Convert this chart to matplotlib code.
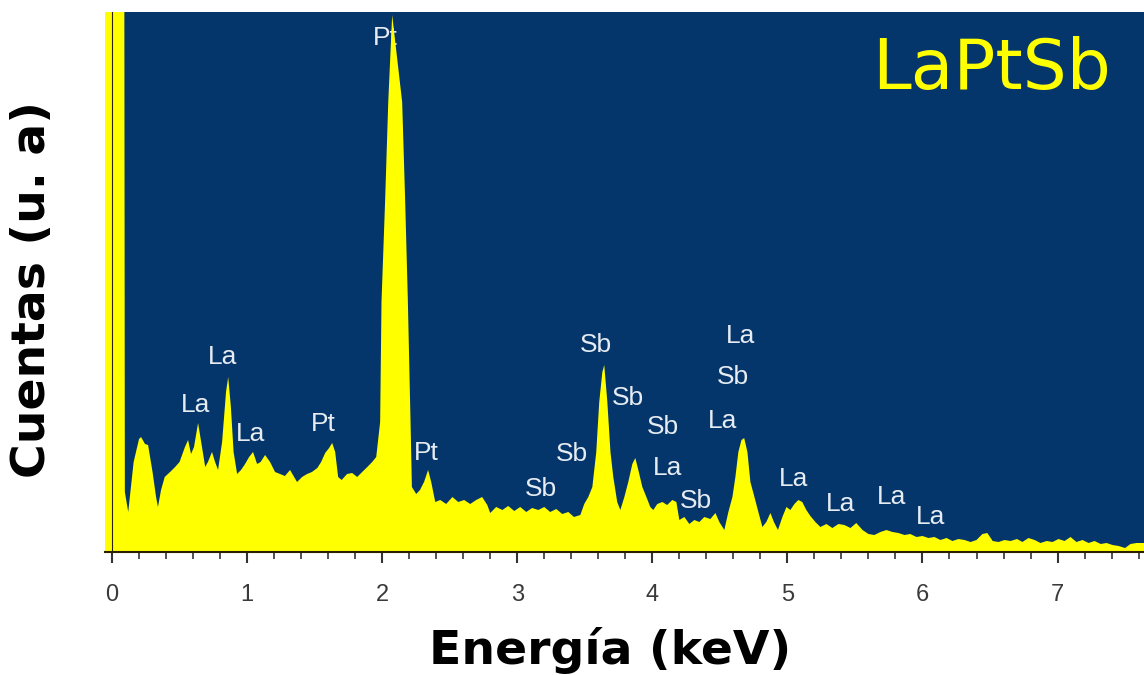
import matplotlib
matplotlib.use("Agg")
import matplotlib.pyplot as plt
from matplotlib.ticker import MultipleLocator

# spectrum (energy in keV, counts in arbitrary units)
energy = [-0.06, 0.08, 0.095, 0.12, 0.16, 0.20, 0.215, 0.244, 0.267, 0.30, 0.326, 0.34,
          0.363, 0.39, 0.43, 0.467, 0.50, 0.54, 0.563, 0.585, 0.607, 0.637, 0.66, 0.69,
          0.71, 0.74, 0.763, 0.785, 0.815, 0.844, 0.86, 0.88, 0.90, 0.926, 0.955, 0.985,
          1.015, 1.044, 1.074, 1.10, 1.133, 1.17, 1.207, 1.244, 1.28, 1.318, 1.348, 1.37,
          1.407, 1.444, 1.48, 1.52, 1.548, 1.578, 1.607, 1.63, 1.652, 1.674, 1.70, 1.74,
          1.778, 1.815, 1.852, 1.89, 1.926, 1.956, 1.985, 1.995, 2.022, 2.045, 2.074, 2.148,
          2.17, 2.19, 2.21, 2.22, 2.252, 2.28, 2.31, 2.34, 2.363, 2.393, 2.43,
          2.474, 2.52, 2.563, 2.607, 2.652, 2.696, 2.74, 2.778, 2.80, 2.844, 2.89, 2.933,
          2.978, 3.022, 3.067, 3.11, 3.156, 3.20, 3.244, 3.289, 3.333, 3.378, 3.42, 3.467,
          3.496, 3.526, 3.556, 3.585, 3.607, 3.63, 3.644, 3.667, 3.69, 3.711, 3.74, 3.763,
          3.793, 3.822, 3.852, 3.874, 3.90, 3.926, 3.956, 3.985, 4.007, 4.037, 4.074, 4.11,
          4.148, 4.178, 4.20, 4.237, 4.274, 4.311, 4.348, 4.385, 4.43, 4.467, 4.496, 4.533,
          4.563, 4.593, 4.615, 4.637, 4.66, 4.68, 4.704, 4.726, 4.756, 4.785, 4.815, 4.844,
          4.874, 4.90, 4.93, 4.963, 4.993, 5.022, 5.052, 5.081, 5.11, 5.14, 5.17, 5.207,
          5.244, 5.289, 5.333, 5.378, 5.422, 5.467, 5.51, 5.556, 5.60, 5.644, 5.689, 5.733,
          5.778, 5.822, 5.867, 5.91, 5.956, 6.00, 6.044, 6.089, 6.133, 6.178, 6.222, 6.267,
          6.311, 6.356, 6.40, 6.444, 6.48, 6.52, 6.563, 6.607, 6.652, 6.70, 6.74, 6.785,
          6.83, 6.874, 6.92, 6.963, 7.007, 7.052, 7.096, 7.14, 7.185, 7.23, 7.274, 7.32,
          7.363, 7.407, 7.452, 7.50, 7.54, 7.585, 7.65]
counts = [2000, 2000, 60, 40, 90, 113, 115, 108, 107, 80, 55, 45,
          62, 75, 80, 85, 90, 105, 112, 98, 105, 129, 110, 85,
          90, 100, 90, 82, 110, 160, 175, 145, 100, 78, 82, 88,
          95, 100, 88, 90, 97, 90, 80, 78, 76, 82, 75, 70,
          75, 78, 80, 84, 90, 99, 104, 109, 100, 75, 72, 78,
          79, 75, 80, 85, 90, 95, 130, 250, 352, 450, 537, 450,
          352, 252, 130, 65, 58, 62, 70, 82, 70, 50, 52,
          48, 55, 50, 52, 48, 52, 55, 47, 39, 45, 42, 46,
          41, 45, 40, 44, 42, 45, 40, 43, 38, 40, 35, 37,
          48, 55, 65, 100, 150, 180, 187, 150, 100, 75, 50, 42,
          55, 70, 88, 94, 80, 65, 55, 45, 42, 48, 50, 47,
          52, 50, 32, 35, 28, 32, 30, 35, 33, 39, 30, 22,
          40, 55, 75, 100, 112, 114, 100, 70, 55, 40, 25, 30,
          39, 30, 22, 35, 45, 42, 48, 52, 50, 42, 36, 30,
          25, 28, 24, 28, 27, 24, 29, 22, 18, 17, 20, 22,
          20, 19, 17, 18, 15, 16, 14, 15, 12, 14, 11, 13,
          12, 10, 12, 18, 19, 11, 10, 12, 11, 13, 10, 14,
          12, 9, 11, 10, 13, 11, 15, 10, 12, 9, 11, 8,
          9, 7, 6, 4, 8, 9, 9]

# peak labels
peak_names = ["Pt", "La", "La", "La", "Pt", "Pt", "Sb", "Sb", "Sb", "Sb",
              "Sb", "La", "Sb", "La", "Sb", "La", "La", "La", "La", "La"]
peak_x = [2.02, 0.815, 0.622, 1.022, 1.563, 2.326, 3.178, 3.407, 3.585, 3.822,
          4.081, 4.111, 4.319, 4.652, 4.593, 4.519, 5.044, 5.393, 5.77, 6.059]
peak_y = [514, 195, 147, 118, 128, 99, 63, 98, 207, 154,
          125, 84, 51, 216, 175, 131, 73, 48, 55, 35]

fig = plt.figure(figsize=(11.44, 6.75), dpi=100)
ax = fig.add_axes([105 / 1144, 1 - 552 / 675, 1 - 105 / 1144, 540 / 675])
ax.set_facecolor("#05366b")

for name, px, py in zip(peak_names, peak_x, peak_y):
    ax.text(px, py, name, color="#e6ecf2", fontsize=19, family="Liberation Sans",
            ha="center", va="center", zorder=1)

ax.fill_between(energy, counts, 0, color="#ffff00", lw=0, zorder=2)

ax.set_xlim(-0.052, 7.64)
ax.set_ylim(0, 540)

ax.spines["top"].set_visible(False)
ax.spines["right"].set_visible(False)
ax.spines["left"].set_position(("data", 0))
ax.spines["left"].set_color("#2a2000")
ax.spines["left"].set_zorder(3)
ax.spines["bottom"].set_color("#2a2000")
ax.spines["bottom"].set_linewidth(1.5)
ax.set_yticks([])

ax.xaxis.set_major_locator(MultipleLocator(1))
ax.xaxis.set_minor_locator(MultipleLocator(0.2))
ax.tick_params(axis="x", which="major", length=8, width=1.5, color="#333333",
               labelsize=17, labelcolor="#3a3a3a", pad=15)
ax.tick_params(axis="x", which="minor", length=5, width=1.2, color="#333333")
for lab in ax.get_xticklabels():
    lab.set_family("Liberation Sans")

ax.text(0.968, 0.955, "LaPtSb", transform=ax.transAxes, color="#ffff00",
        fontsize=50, ha="right", va="top", family="DejaVu Sans")

fig.text(610 / 1144, 1 - 651 / 675, "Energía (keV)", fontsize=34, fontweight="bold",
         ha="center", va="center", family="DejaVu Sans")
fig.text(33 / 1144, 1 - 290 / 675, "Cuentas (u. a)", fontsize=34, fontweight="bold",
         ha="center", va="center", rotation=90, family="DejaVu Sans")

fig.savefig("out.png", dpi=100)
